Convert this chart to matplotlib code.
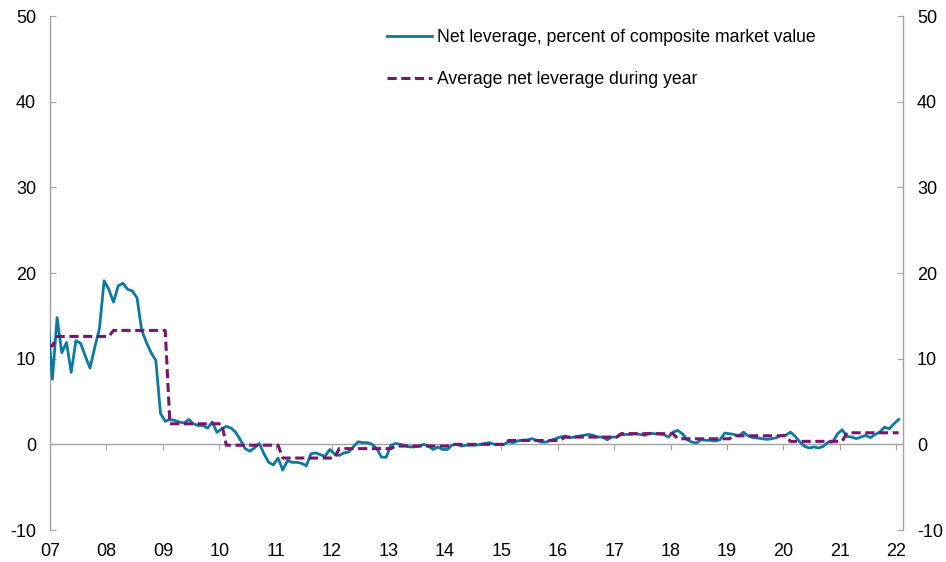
import numpy as np
import matplotlib.pyplot as plt

plt.rcParams['font.family'] = ['Liberation Sans', 'DejaVu Sans']
plt.rcParams['axes.unicode_minus'] = False

BLUE = '#0a7aa3'
PURPLE = '#7a146e'
GRAY = '#a3a3a3'

# yearly averages, 2006..2021
years = list(range(2006, 2022))
yearly_avg = [11.5, 12.6, 13.3, 2.4, -0.1, -1.6, -0.5, -0.2, 0.0, 0.45,
              0.85, 1.25, 0.65, 1.0, 0.35, 1.35]

# monthly net leverage, Dec 2006 .. Jan 2022
net_leverage = [
    15.0,
    7.6, 14.8, 10.7, 11.9, 8.4, 12.1, 11.8, 10.3, 8.9, 11.3, 13.5, 19.1,      # 2007
    18.1, 16.6, 18.5, 18.8, 18.1, 17.9, 17.1, 13.3, 11.9, 10.7, 9.8, 3.6,     # 2008
    2.7, 2.9, 2.8, 2.6, 2.5, 2.9, 2.4, 2.2, 2.2, 1.9, 2.6, 1.4,               # 2009
    1.8, 2.1, 1.9, 1.4, 0.5, -0.5, -0.8, -0.4, 0.1, -1.1, -2.1, -2.4,         # 2010
    -1.6, -3.0, -1.9, -2.1, -2.1, -2.2, -2.5, -1.1, -1.0, -1.2, -1.4, -0.6,   # 2011
    -1.1, -1.3, -1.0, -0.9, -0.3, 0.3, 0.2, 0.2, 0.0, -0.5, -1.5, -1.5,       # 2012
    -0.1, 0.1, 0.0, -0.1, -0.3, -0.3, -0.2, 0.0, -0.2, -0.6, -0.3, -0.6,      # 2013
    -0.6, -0.1, 0.0, -0.2, -0.1, -0.1, -0.1, 0.0, 0.1, 0.2, 0.0, 0.0,         # 2014
    0.0, 0.3, 0.2, 0.4, 0.5, 0.5, 0.66, 0.47, 0.27, 0.27, 0.47, 0.66,         # 2015
    0.85, 0.97, 0.78, 0.85, 0.97, 1.05, 1.16, 1.05, 0.85, 0.85, 0.54, 0.85,   # 2016
    0.85, 1.12, 1.16, 1.16, 1.24, 1.16, 1.05, 1.3, 1.24, 1.2, 1.16, 0.85,     # 2017
    1.43, 1.63, 1.24, 0.54, 0.27, 0.16, 0.54, 0.47, 0.47, 0.39, 0.54, 1.32,   # 2018
    1.24, 1.16, 0.97, 1.43, 0.97, 0.78, 0.74, 0.66, 0.58, 0.66, 0.78, 1.05,   # 2019
    1.05, 1.43, 0.93, 0.27, -0.23, -0.43, -0.3, -0.43, -0.23, 0.27, 0.27, 1.24,  # 2020
    1.7, 0.93, 0.85, 0.66, 0.85, 1.05, 0.78, 1.16, 1.43, 2.0, 1.82, 2.4,      # 2021
    2.9,
]

tick_years = list(range(2007, 2023))
tick_labels = ['07', '08', '09', '10', '11', '12', '13', '14', '15', '16',
               '17', '18', '19', '20', '21', '22']

# month index relative to Jan 2007, plotted mid-month
month_idx = np.arange(-1, len(net_leverage) - 1)
t = 2007 + (month_idx + 0.5) / 12
# yearly average shown from the month after the year it belongs to
avg_line = [yearly_avg[years.index(2007 + (j - 1) // 12)] for j in month_idx]

fig = plt.figure(figsize=(9.46, 5.62), dpi=100)
ax = fig.add_axes([0.0529, 0.0569, 0.9017, 0.9146])

ax.plot(t, net_leverage, color=BLUE, lw=2.0, zorder=3,
        label='Net leverage, percent of composite market value')
ax.plot(t, avg_line, color=PURPLE, lw=2.2, ls=(0, (3.0, 1.5)), zorder=4,
        label='Average net leverage during year')

ax.set_xlim(2007, 2022.12)
ax.set_ylim(-10, 50)

for side in ['left', 'right', 'bottom']:
    ax.spines[side].set_color(GRAY)
    ax.spines[side].set_linewidth(1.0)
ax.spines['top'].set_visible(False)
ax.spines['bottom'].set_position(('data', 0))

ax.set_xticks(tick_years)
ax.tick_params(axis='x', direction='out', length=4, color=GRAY, labelbottom=False)

ax.set_yticks(range(-10, 51, 10))
ax.tick_params(axis='y', direction='in', length=4, color=GRAY, left=True, right=True,
               labelleft=True, labelright=True, labelsize=13, pad=10)

sec = ax.secondary_xaxis(0.0)
sec.set_xticks(tick_years, tick_labels)
sec.tick_params(length=0, labelsize=13, pad=9)
sec.spines['bottom'].set_visible(False)

ax.legend(loc='upper left', bbox_to_anchor=(0.395, 0.975), frameon=False, fontsize=12.7,
          handlelength=2.55, handletextpad=0.28, labelspacing=1.45, borderpad=0,
          borderaxespad=0)

fig.savefig('out.png', dpi=100)
